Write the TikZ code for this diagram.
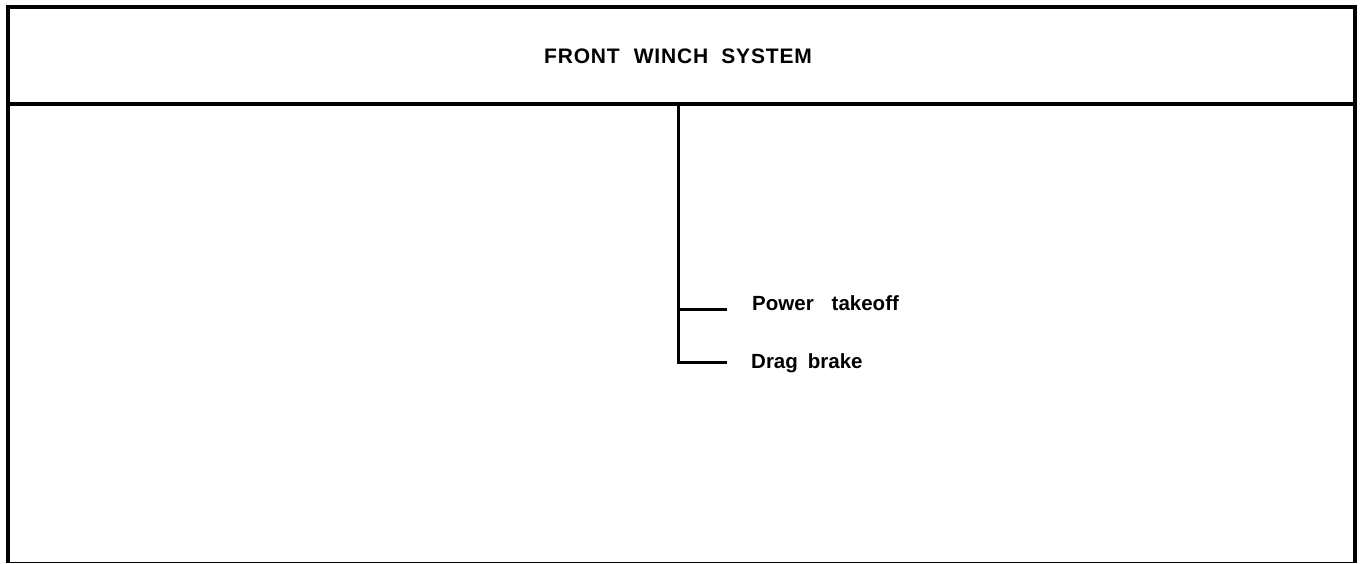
\documentclass[tikz,border=0pt]{standalone}
\usepackage{fontspec}
\setmainfont{Liberation Sans}
\usepackage{tikz}
\usetikzlibrary{positioning,calc}

\begin{document}
\begin{tikzpicture}[x=1pt,y=-1pt,
  frame/.style={line width=4pt},
  trunk/.style={line width=3pt},
  lbl/.style={anchor=base west,font=\fontsize{20.5}{24}\selectfont\bfseries},
  every node/.style={inner sep=0pt}]
\useasboundingbox (0,0) rectangle (1365,563);
% outer frame and header
\draw[frame] (8,563) -- (8,7) -- (1355,7) -- (1355,563);
\draw[frame] (8,104) -- (1355,104);
\draw[line width=1pt] (8,562) -- (1355,562);
\node[anchor=base,font=\fontsize{21}{24}\selectfont\bfseries] (title) at (678,63)
  {\addfontfeature{LetterSpace=4}FRONT\hspace{14pt}WINCH\hspace{13pt}SYSTEM};
% tree
\coordinate (root) at (678,104);
\node[lbl] (pto) at (752,310) {Power\hspace{18pt}takeoff};
\node[lbl] (drag) at (751,368) {Drag\hspace{10pt}brake};
\coordinate (ptoend) at ([xshift=-25pt,yshift=1pt]pto.base west);
\coordinate (dragend) at ([xshift=-24pt,yshift=6pt]drag.base west);
\draw[trunk] (root) |- (dragend);
\draw[trunk] (root |- ptoend) -- (ptoend);
\end{tikzpicture}
\end{document}
